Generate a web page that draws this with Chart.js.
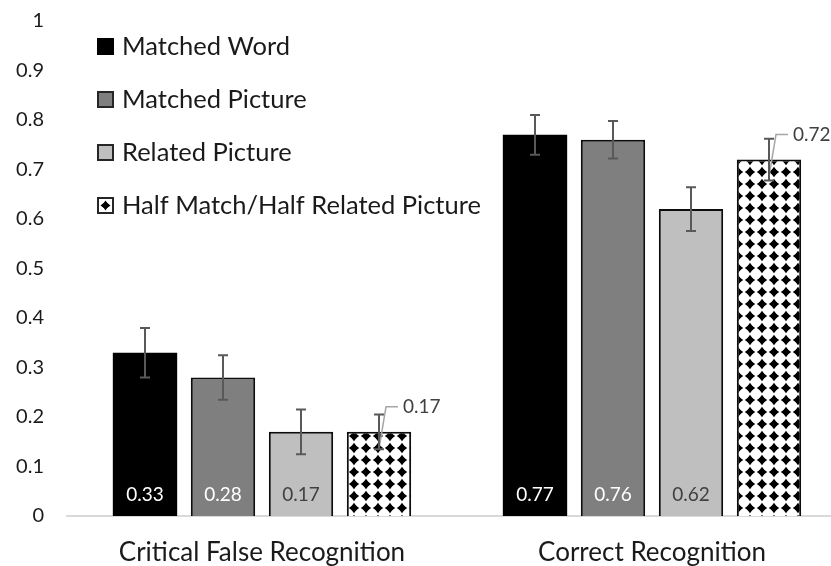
<!DOCTYPE html>
<html>
<head>
<meta charset="utf-8">
<script src="https://cdn.jsdelivr.net/npm/chart.js@4"></script>
<style>
  html, body { margin: 0; padding: 0; background: #fff; overflow: hidden; }
  #wrap { position: relative; top: -14px; width: 850px; height: 580px; }
</style>
</head>
<body>
<div id="wrap"><canvas id="my-chart"></canvas></div>
<script>
const categories = ["Critical False Recognition", "Correct Recognition"];
const seriesNames = ["Matched Word", "Matched Picture", "Related Picture", "Half Match/Half Related Picture"];

// proportion means per condition
const matchedWord = [0.33, 0.77];
const matchedPicture = [0.28, 0.76];
const relatedPicture = [0.17, 0.62];
const halfMatch = [0.17, 0.72];

// standard errors
const matchedWordErr = [0.05, 0.04];
const matchedPictureErr = [0.045, 0.038];
const relatedPictureErr = [0.045, 0.044];
const halfMatchErr = [0.035, 0.042];

const yTickLabels = ["0", "0.1", "0.2", "0.3", "0.4", "0.5", "0.6", "0.7", "0.8", "0.9", "1"];

const FONT = "Lato, 'Noto Sans', sans-serif";

function drawStar(ctx, cx, cy, a, k) {
  ctx.beginPath();
  ctx.moveTo(cx, cy - a);
  ctx.quadraticCurveTo(cx + k, cy - k, cx + a, cy);
  ctx.quadraticCurveTo(cx + k, cy + k, cx, cy + a);
  ctx.quadraticCurveTo(cx - k, cy + k, cx - a, cy);
  ctx.quadraticCurveTo(cx - k, cy - k, cx, cy - a);
  ctx.closePath();
  ctx.fill();
  ctx.beginPath();
  ctx.arc(cx, cy, a * 0.56, 0, Math.PI * 2);
  ctx.fill();
}

// one black star per 12px tile on white
function makePattern(ctx) {
  const tile = document.createElement("canvas");
  tile.width = 12;
  tile.height = 12;
  const t = tile.getContext("2d");
  t.fillStyle = "#fff";
  t.fillRect(0, 0, 12, 12);
  t.fillStyle = "#000";
  drawStar(t, 6, 6, 5.2, 1.8);
  return ctx.createPattern(tile, "repeat");
}

const ctx = document.getElementById("my-chart").getContext("2d");
const patternFill = makePattern(ctx);

const values = [matchedWord, matchedPicture, relatedPicture, halfMatch];
const errors = [matchedWordErr, matchedPictureErr, relatedPictureErr, halfMatchErr];
const fills = ["#000000", "#7f7f7f", "#bfbfbf", patternFill];
const labelColors = ["#ffffff", "#ffffff", "#404040", null];

// error bars, value labels and the legend box in the upper left
const extras = {
  id: "extras",
  afterDatasetsDraw(chart) {
    const c = chart.ctx;
    const y = chart.scales.y;
    const base = y.getPixelForValue(0);
    chart.data.datasets.forEach((ds, i) => {
      const meta = chart.getDatasetMeta(i);
      meta.data.forEach((bar, j) => {
        const v = ds.data[j];
        const e = errors[i][j];
        c.save();

        if (labelColors[i] === null) {
          // outside label with leader line
          const ly = bar.y - 25;
          c.strokeStyle = "#a6a6a6";
          c.lineWidth = 1.5;
          c.beginPath();
          c.moveTo(bar.x, bar.y + 17);
          c.lineTo(bar.x + 7, ly);
          c.lineTo(bar.x + 19, ly);
          c.stroke();
          c.fillStyle = "#404040";
          c.font = "19px " + FONT;
          c.textAlign = "left";
          c.textBaseline = "middle";
          c.fillText(v.toFixed(2), bar.x + 24, ly);
        } else {
          c.fillStyle = labelColors[i];
          c.font = "19px " + FONT;
          c.textAlign = "center";
          c.textBaseline = "middle";
          c.fillText(v.toFixed(2), bar.x, base - 21);
        }

        const top = y.getPixelForValue(v + e);
        const bot = y.getPixelForValue(v - e);
        c.strokeStyle = "#595959";
        c.lineWidth = 2;
        c.beginPath();
        c.moveTo(bar.x, top);
        c.lineTo(bar.x, bot);
        c.moveTo(bar.x - 5, top);
        c.lineTo(bar.x + 5, top);
        c.moveTo(bar.x - 5, bot);
        c.lineTo(bar.x + 5, bot);
        c.stroke();
        c.restore();
      });
    });
  },
  afterDraw(chart) {
    const c = chart.ctx;
    const area = chart.chartArea;
    const bx = area.left + 30;
    c.save();
    seriesNames.forEach((name, i) => {
      const by = area.top + 17 + i * 53;
      c.fillStyle = i === 3 ? "#ffffff" : fills[i];
      c.fillRect(bx, by, 17, 17);
      c.strokeStyle = i === 0 ? "#000" : "#262626";
      c.lineWidth = 2;
      c.strokeRect(bx + 1, by + 1, 15, 15);
      if (i === 3) {
        c.fillStyle = "#000";
        drawStar(c, bx + 8.5, by + 8.5, 5, 1.8);
      }
      c.fillStyle = "#1a1a1a";
      c.font = "25.5px " + FONT;
      c.textAlign = "left";
      c.textBaseline = "middle";
      c.fillText(name, bx + 25, by + 9);
    });
    c.restore();
  }
};

new Chart(ctx, {
  type: "bar",
  data: {
    labels: categories,
    datasets: seriesNames.map((name, i) => ({
      label: name,
      data: values[i],
      backgroundColor: fills[i],
      borderColor: "#0d0d0d",
      borderWidth: i === 0 ? 0 : 2,
      borderSkipped: "bottom",
      categoryPercentage: 0.8,
      barPercentage: 0.825
    }))
  },
  options: {
    responsive: true,
    maintainAspectRatio: false,
    animation: false,
    layout: { padding: { top: 6, right: 3, left: 0, bottom: 0 } },
    plugins: {
      legend: { display: false },
      tooltip: { enabled: false }
    },
    scales: {
      x: {
        grid: { display: false, drawTicks: false },
        border: { display: true, color: "#d9d9d9", width: 2 },
        ticks: {
          color: "#1a1a1a",
          font: { family: FONT, size: 26 },
          padding: 21
        },
        afterFit(scale) { scale.height = 50; }
      },
      y: {
        min: 0,
        max: 1,
        grid: { display: false, drawTicks: false },
        border: { display: false },
        ticks: {
          stepSize: 0.1,
          color: "#1a1a1a",
          font: { family: FONT, size: 20 },
          padding: 23,
          callback: (value, index) => yTickLabels[index]
        },
        afterFit(scale) { scale.width = 67; }
      }
    }
  },
  plugins: [extras]
});
</script>
</body>
</html>
